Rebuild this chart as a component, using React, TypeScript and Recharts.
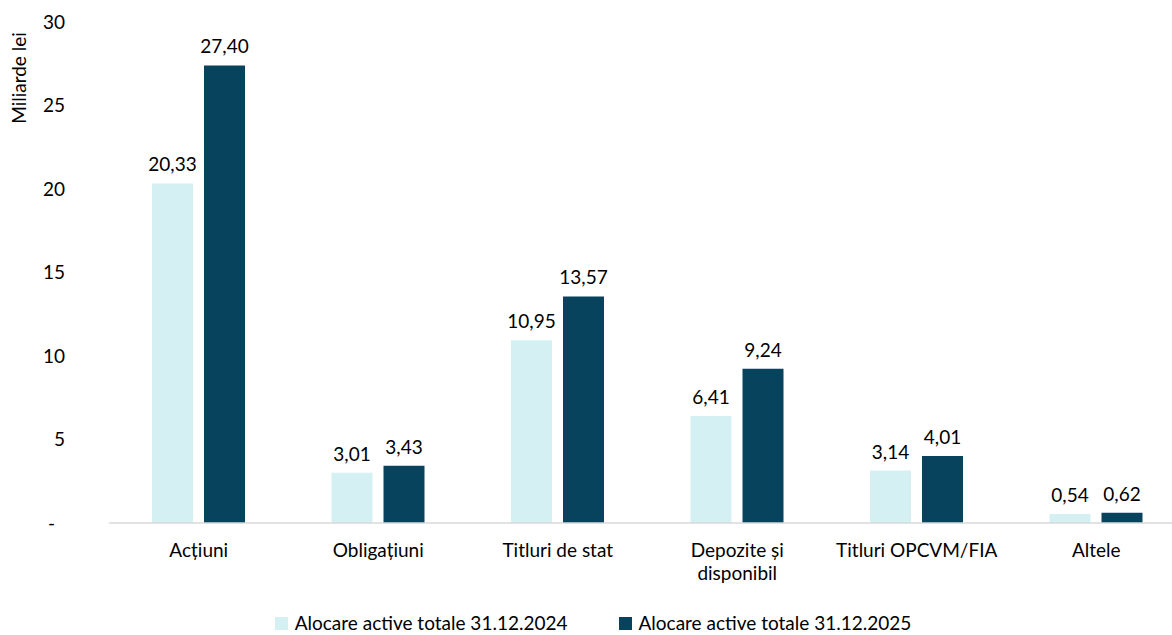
import React from "react";
import { BarChart, Bar, XAxis, YAxis, Legend, LabelList } from "recharts";

const categories = [
  "Acțiuni",
  "Obligațiuni",
  "Titluri de stat",
  "Depozite și\ndisponibil",
  "Titluri OPCVM/FIA",
  "Altele",
];
const values2024 = [20.33, 3.01, 10.95, 6.41, 3.14, 0.54];
const values2025 = [27.4, 3.43, 13.57, 9.24, 4.01, 0.62];
const yTicks = [0, 5, 10, 15, 20, 25, 30];

const series = [
  { key: "v2024", name: "Alocare active totale 31.12.2024", color: "#D4F0F2" },
  { key: "v2025", name: "Alocare active totale 31.12.2025", color: "#07435D" },
];

const data = categories.map((c, i) => ({
  category: c,
  v2024: values2024[i],
  v2025: values2025[i],
}));

const FONT = 19;
const fmt = (v: number) => v.toFixed(2).replace(".", ",");

function CategoryTick(props: any) {
  const { x, y, payload } = props;
  const lines = String(payload.value).split("\n");
  return (
    <text x={x} y={y} textAnchor="middle" fontSize={FONT} fill="#000">
      {lines.map((l, i) => (
        <tspan key={i} x={x} dy={i === 0 ? "0.71em" : 23}>
          {l}
        </tspan>
      ))}
    </text>
  );
}

function ValueTick(props: any) {
  const { x, y, payload } = props;
  const zero = payload.value === 0;
  return (
    <text
      x={zero ? x - 10 : x}
      y={y}
      dy="0.355em"
      textAnchor="end"
      fontSize={FONT}
      fill="#000"
    >
      {zero ? "-" : payload.value}
    </text>
  );
}

function AxisTitle(props: any) {
  const { viewBox } = props;
  const cx = 18;
  const cy = viewBox.y + 56;
  return (
    <text
      x={cx}
      y={cy}
      transform={`rotate(-90 ${cx} ${cy})`}
      textAnchor="middle"
      dominantBaseline="central"
      fontSize={FONT}
      fill="#000"
    >
      Miliarde lei
    </text>
  );
}

function LegendContent() {
  return (
    <div
      style={{
        display: "flex",
        justifyContent: "center",
        gap: 51,
        fontSize: FONT,
        lineHeight: "22px",
        paddingTop: 1,
        color: "#000",
      }}
    >
      {series.map((s) => (
        <div key={s.key} style={{ display: "flex", alignItems: "center" }}>
          <span
            style={{
              display: "inline-block",
              width: 13,
              height: 13,
              background: s.color,
              marginRight: 7,
            }}
          />
          {s.name}
        </div>
      ))}
    </div>
  );
}

export default function App() {
  return (
    <div
      style={{
        position: "fixed",
        top: 0,
        left: 0,
        width: 1172,
        height: 635,
        overflow: "hidden",
        fontFamily: "Lato, sans-serif",
        background: "#fff",
      }}
    >
      <BarChart
        width={1200}
        height={635}
        data={data}
        margin={{ top: 22, right: 14, left: 0, bottom: 0 }}
        barGap={11}
        barSize={41}
      >
        <XAxis
          dataKey="category"
          interval={0}
          tickSize={0}
          tickLine={false}
          tickMargin={21}
          height={88}
          stroke="#D9D9D9"
          strokeWidth={1.5}
          tick={<CategoryTick />}
        />
        <YAxis
          domain={[0, 30]}
          ticks={yTicks}
          axisLine={false}
          tickLine={false}
          tickSize={0}
          tickMargin={44}
          width={109}
          tick={<ValueTick />}
          label={<AxisTitle />}
        />
        <Legend
          verticalAlign="bottom"
          content={<LegendContent />}
          wrapperStyle={{ height: 24, overflow: "visible" }}
        />
        {series.map((s) => (
          <Bar
            key={s.key}
            dataKey={s.key}
            name={s.name}
            fill={s.color}
            isAnimationActive={false}
          >
            <LabelList
              dataKey={s.key}
              position="top"
              offset={12}
              fontSize={FONT}
              fill="#000"
              formatter={(v: any) => fmt(Number(v))}
            />
          </Bar>
        ))}
      </BarChart>
    </div>
  );
}
